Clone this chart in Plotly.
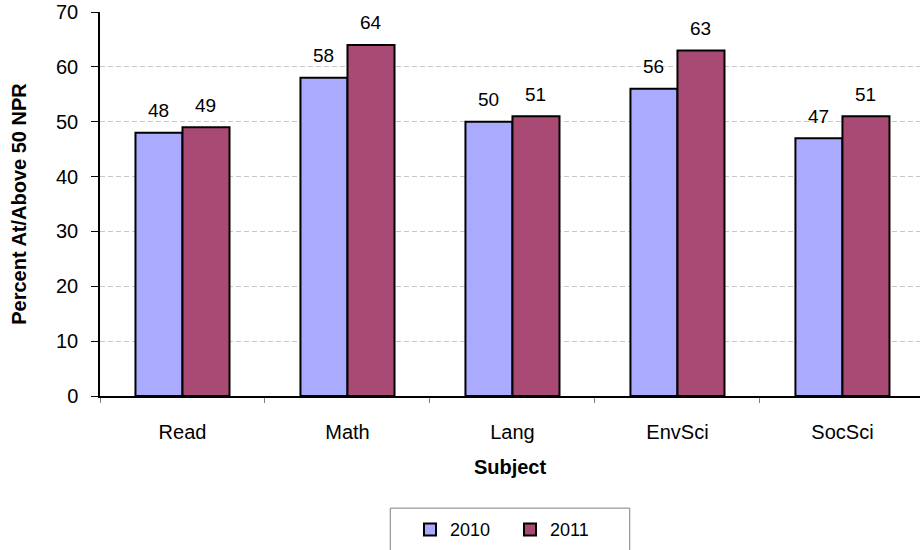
import plotly.graph_objects as go

subjects = ["Read", "Math", "Lang", "EnvSci", "SocSci"]
years = ["2010", "2011"]
values_2010 = [48, 58, 50, 56, 47]
values_2011 = [49, 64, 51, 63, 51]
y_ticks = [0, 10, 20, 30, 40, 50, 60, 70]

colors = {"2010": "#AAAAFF", "2011": "#A84A74"}
series = {"2010": values_2010, "2011": values_2011}

FONT = "Liberation Sans, Arial, sans-serif"

fig = go.Figure()
for yr in years:
    fig.add_trace(go.Bar(
        x=subjects, y=series[yr], name=yr,
        marker=dict(color=colors[yr], line=dict(color="black", width=2)),
    ))

annotations = []
shift = {"2010": -23.5, "2011": 23.5}
for yr in years:
    for s, v in zip(subjects, series[yr]):
        annotations.append(dict(
            x=s, y=v, xref="x", yref="y", text=str(v), showarrow=False,
            xshift=shift[yr], yshift=22, font=dict(family=FONT, size=19, color="black"),
        ))

fig.update_layout(
    width=920, height=550,
    margin=dict(l=100, r=0, t=12, b=154),
    paper_bgcolor="white", plot_bgcolor="white",
    barmode="group", bargap=0.43, bargroupgap=0,
    font=dict(family=FONT, size=20, color="black"),
    showlegend=True,
    legend=dict(
        orientation="h", x=(410 - 100) / 820, xanchor="left", y=-0.30, yanchor="top",
        font=dict(family=FONT, size=18), bgcolor="rgba(0,0,0,0)",
        entrywidth=55, entrywidthmode="pixels", traceorder="normal",
    ),
    annotations=annotations,
    shapes=[dict(type="rect", xref="paper", yref="paper",
                 x0=0.354, x1=0.646, y0=-0.292, y1=-0.5,
                 line=dict(color="#808080", width=1), fillcolor="rgba(0,0,0,0)")],
)

fig.update_xaxes(
    range=[-0.5, 4.47], showline=True, linecolor="black", linewidth=1.5,
    ticks="outside", tickson="boundaries", ticklen=5, tickcolor="#808080",
    ticklabelstandoff=17, showgrid=False, tickfont=dict(size=20),
    title=dict(text="<b>Subject</b>", font=dict(family=FONT, size=20), standoff=18),
)
fig.update_yaxes(
    range=[0, 70], tickvals=y_ticks, showline=True, linecolor="black", linewidth=1.5,
    ticks="outside", ticklen=7, tickcolor="black", ticklabelstandoff=9,
    showgrid=True, gridcolor="#C8C8C8", griddash="5px,3px", gridwidth=1,
    zeroline=False, tickfont=dict(size=20),
    title=dict(text="<b>Percent At/Above 50 NPR</b>", font=dict(family=FONT, size=20), standoff=24),
)

fig.write_html("out.html")
